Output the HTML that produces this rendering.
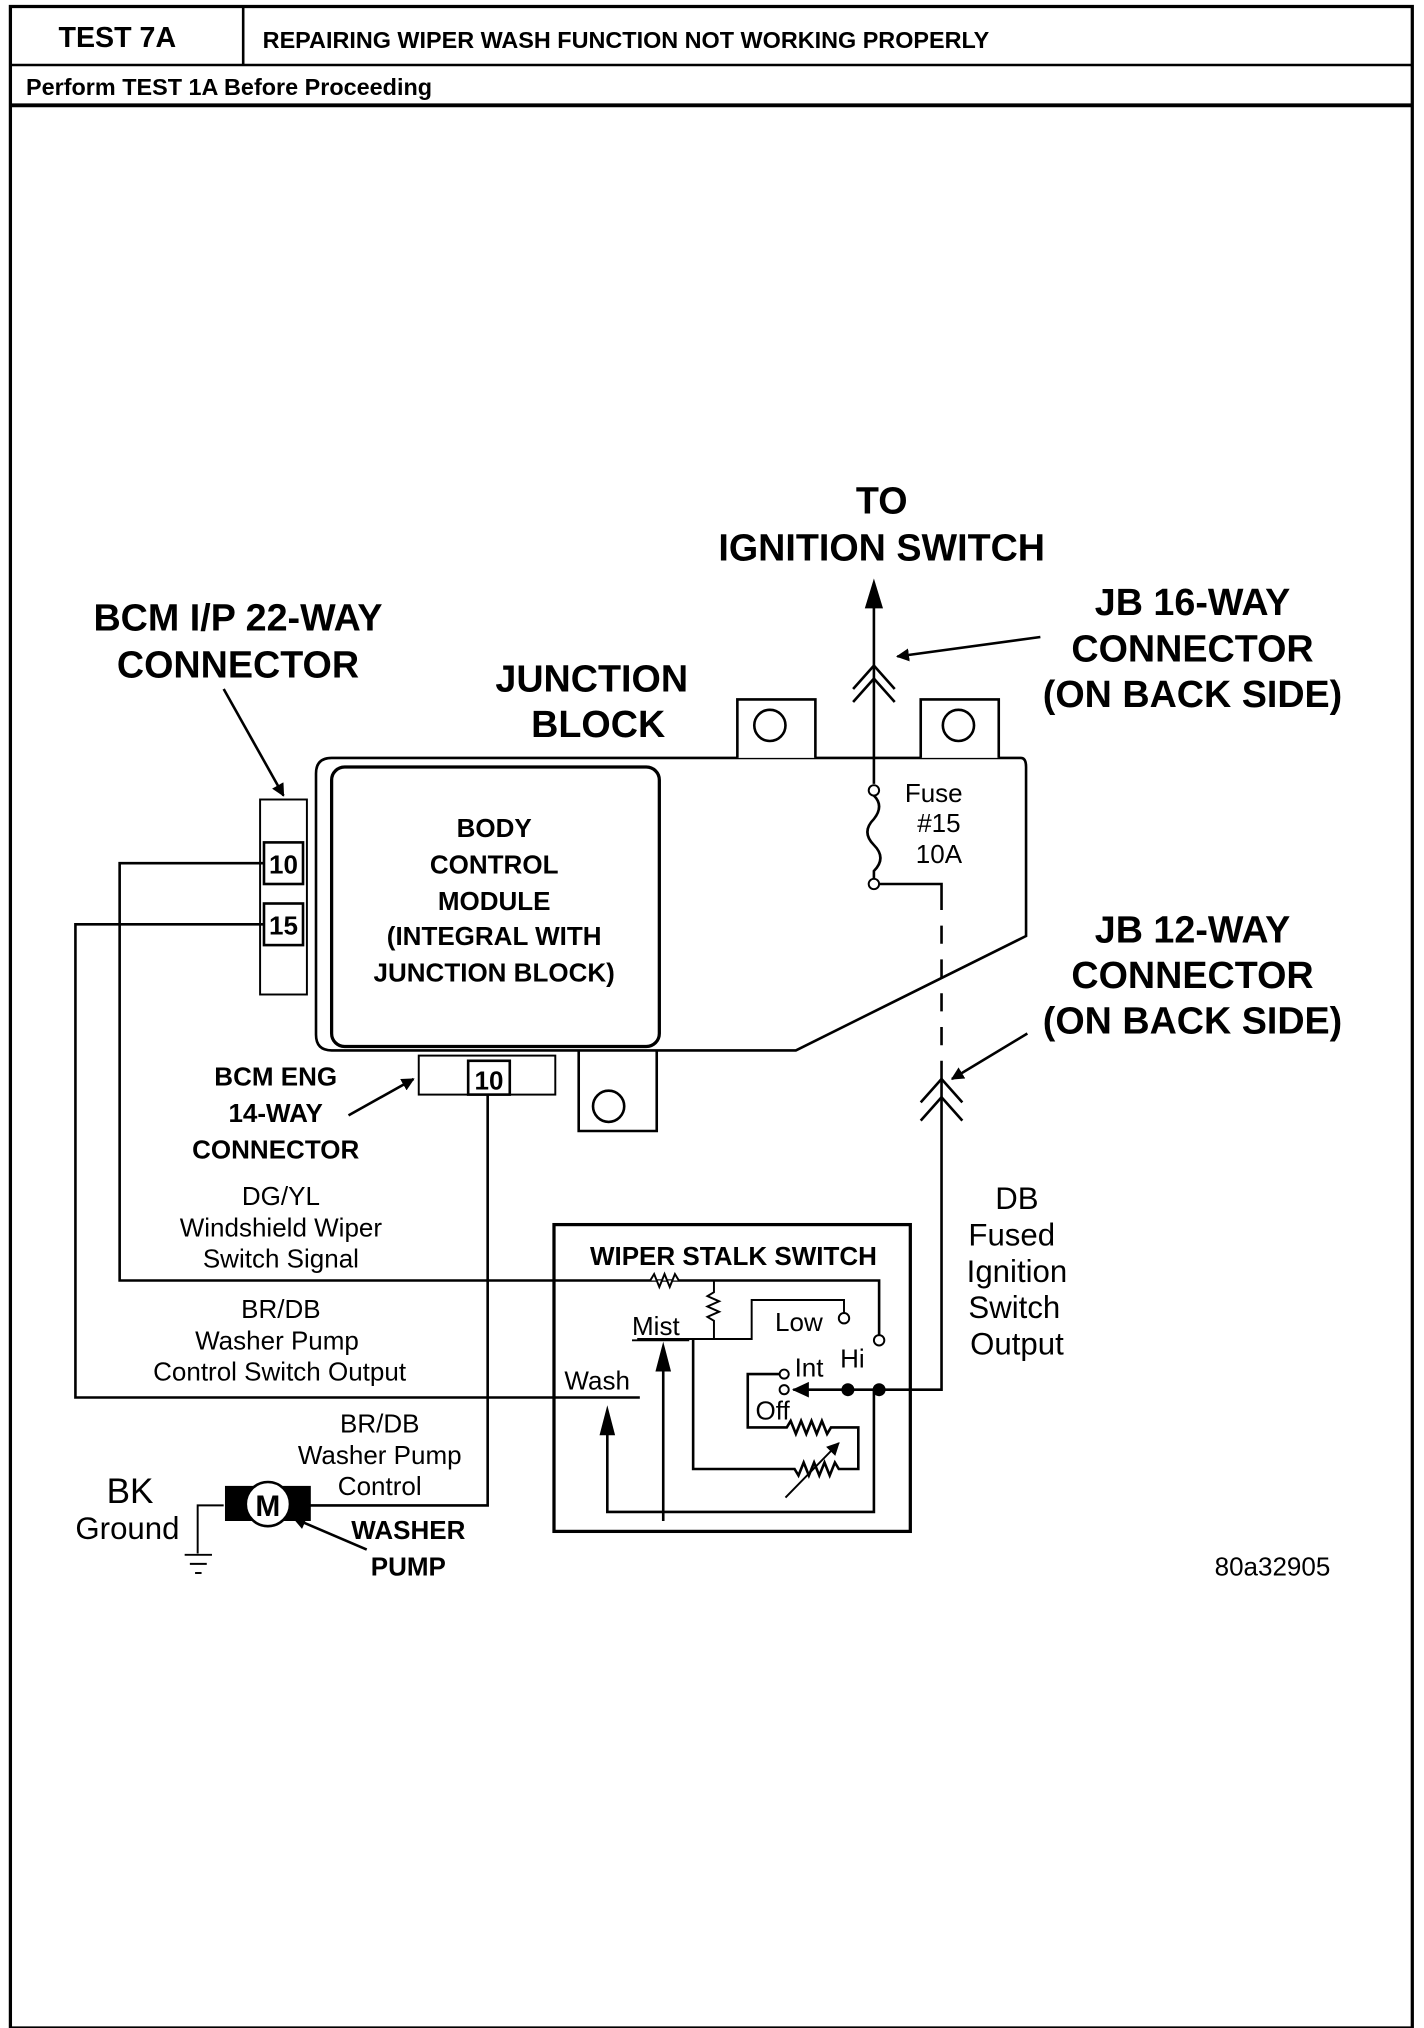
<!DOCTYPE html>
<html><head><meta charset="utf-8"><style>
html,body{margin:0;padding:0;background:#fff}
svg{display:block}
text{font-family:"Liberation Sans",sans-serif;fill:#000}
.b{font-weight:bold}
</style></head><body>
<svg width="1424" height="2028" viewBox="0 0 1095 1560" preserveAspectRatio="none" xmlns="http://www.w3.org/2000/svg">
<defs>
<marker id="ah" markerWidth="10" markerHeight="10" refX="9" refY="5" orient="auto" markerUnits="userSpaceOnUse"><path d="M0,0 L10,5 L0,10 z" fill="#000"/></marker>
</defs>
<g fill="none" stroke="#000">
<rect x="8" y="5" width="1078" height="1555" stroke-width="2.5"/>
<line x1="8" y1="50" x2="1086" y2="50" stroke-width="2"/>
<line x1="8" y1="81" x2="1086" y2="81" stroke-width="3"/>
<line x1="187" y1="5" x2="187" y2="50" stroke-width="2"/>

<path d="M255,583 L785,583 Q789,583 789,590 L789,720 L612,808 L255,808 Q243,808 243,796 L243,595 Q243,583 255,583 Z" stroke-width="2"/>
<path d="M567,583 L567,538 L627,538 L627,583" stroke-width="2" fill="#fff"/>
<circle cx="592" cy="558" r="12" stroke-width="2"/>
<path d="M708,583 L708,538 L768,538 L768,583" stroke-width="2" fill="#fff"/>
<circle cx="737" cy="558" r="12" stroke-width="2"/>
<path d="M445,808 L445,870 L505,870 L505,808" stroke-width="2"/>
<circle cx="468" cy="851" r="12" stroke-width="2"/>
<rect x="255" y="590" width="252" height="215" rx="10" stroke-width="2.5"/>
<rect x="200" y="615" width="36" height="150" stroke-width="1.5" fill="#fff"/>
<rect x="203" y="648" width="30" height="32" stroke-width="2"/>
<rect x="203" y="695" width="30" height="32" stroke-width="2"/>
<rect x="322" y="812" width="105" height="30" stroke-width="1.5"/>
<rect x="360" y="816" width="32" height="26" stroke-width="2"/>

<polyline points="203,664 92,664 92,985 676,985 676,1027" stroke-width="2"/>
<polyline points="203,711 58,711 58,1075 492,1075" stroke-width="2"/>
<polyline points="375,842 375,1158 238,1158" stroke-width="2"/>
<polyline points="172,1158 152,1158 152,1195" stroke-width="1.5"/>
<line x1="142" y1="1196" x2="163" y2="1196" stroke-width="1.5"/>
<line x1="146" y1="1203" x2="159" y2="1203" stroke-width="1.5"/>
<line x1="150" y1="1210" x2="155" y2="1210" stroke-width="1.5"/>
<line x1="672" y1="465" x2="672" y2="603" stroke-width="2"/>
<path d="M656,530 L672,512 L688,530 M656,540 L672,522 L688,540" stroke-width="2"/>
<circle cx="672" cy="608" r="4" stroke-width="1.5"/>
<path d="M672,612 Q680,620 672,630 Q662,640 672,650 Q682,660 672,670 L672,676" stroke-width="2"/>
<circle cx="672" cy="680" r="4" stroke-width="1.5"/>
<polyline points="676,680 724,680 724,700" stroke-width="2"/>
<line x1="724" y1="712" x2="724" y2="830" stroke-width="2" stroke-dasharray="14,12"/>
<polyline points="724,830 724,1069 610,1069" stroke-width="2"/>
<path d="M708,848 L724,830 L740,848 M708,862 L724,844 L740,862" stroke-width="2"/>

<line x1="172" y1="530" x2="218" y2="612" stroke-width="2" marker-end="url(#ah)"/>
<line x1="800" y1="490" x2="690" y2="505" stroke-width="2" marker-end="url(#ah)"/>
<line x1="790" y1="795" x2="732" y2="830" stroke-width="2" marker-end="url(#ah)"/>
<line x1="268" y1="858" x2="318" y2="830" stroke-width="2" marker-end="url(#ah)"/>
<line x1="282" y1="1192" x2="226" y2="1168" stroke-width="2" marker-end="url(#ah)"/>

<rect x="426" y="942" width="274" height="236" stroke-width="2.5"/>
<path d="M500,985 l3,-5 l4,10 l4,-10 l4,10 l4,-10 l3,5" stroke-width="1.5" fill="#fff"/>
<path d="M549,985 L549,994 l-5,3 l9,4 l-9,4 l9,4 l-9,4 l5,3 L549,1030" stroke-width="1.5"/>
<polyline points="490,1030 578,1030 578,1000 649,1000 649,1010" stroke-width="1.5"/>
<circle cx="649" cy="1014" r="4" stroke-width="1.5" fill="#fff"/>
<circle cx="676" cy="1031" r="4" stroke-width="1.5" fill="#fff"/>
<polyline points="510,1170 510,1037" stroke-width="2"/>
<polyline points="467,1095 467,1163 672,1163 672,1069" stroke-width="2"/>
<path d="M600,1057 L575,1057 L575,1098 L605,1098 l3,-5 l4,10 l4,-10 l4,10 l4,-10 l4,10 l4,-10 l4,10 l3,-5 L660,1098 L660,1130 L645,1130 l-3,-5 l-4,10 l-4,-10 l-4,10 l-4,-10 l-4,10 l-4,-10 l-4,10 l-3,-5 L533,1130 L533,1030" stroke-width="2"/>
<line x1="604" y1="1152" x2="645" y2="1110" stroke-width="1.5" marker-end="url(#ah)"/>
<circle cx="603" cy="1057" r="3.5" stroke-width="1.5" fill="#fff"/>
<circle cx="603" cy="1069" r="3.5" stroke-width="1.5" fill="#fff"/>
</g>
<g fill="#000">
<path d="M609,1069 L622,1063 L622,1075 Z"/>
<circle cx="652" cy="1069" r="5"/>
<circle cx="676" cy="1069" r="5"/>
<path d="M510,1032 L504,1055 L516,1055 Z"/>
<path d="M467,1081 L461,1104 L473,1104 Z"/>
<path d="M672,445 L665,468 L679,468 Z"/>
<rect x="173" y="1143" width="25" height="27"/>
<rect x="214" y="1143" width="25" height="27"/>
</g>
<circle cx="206" cy="1157" r="17" fill="#fff" stroke="#000" stroke-width="2"/>
<text x="206" y="1166" font-size="23" class="b" text-anchor="middle">M</text>

<text x="45" y="36" font-size="22" class="b">TEST 7A</text>
<text x="202" y="37" font-size="18" class="b">REPAIRING WIPER WASH FUNCTION NOT WORKING PROPERLY</text>
<text x="20" y="73" font-size="18" class="b">Perform TEST 1A Before Proceeding</text>

<g class="b" font-size="29" text-anchor="middle">
<text x="678" y="395">TO</text>
<text x="678" y="431">IGNITION SWITCH</text>
<text x="183" y="485">BCM I/P 22-WAY</text>
<text x="183" y="521">CONNECTOR</text>
<text x="455" y="532">JUNCTION</text>
<text x="460" y="567">BLOCK</text>
<text x="917" y="473">JB 16-WAY</text>
<text x="917" y="509">CONNECTOR</text>
<text x="917" y="544">(ON BACK SIDE)</text>
<text x="917" y="725">JB 12-WAY</text>
<text x="917" y="760">CONNECTOR</text>
<text x="917" y="795">(ON BACK SIDE)</text>
</g>
<g class="b" font-size="20" text-anchor="middle">
<text x="380" y="644">BODY</text>
<text x="380" y="672">CONTROL</text>
<text x="380" y="700">MODULE</text>
<text x="380" y="727">(INTEGRAL WITH</text>
<text x="380" y="755">JUNCTION BLOCK)</text>
<text x="212" y="835">BCM ENG</text>
<text x="212" y="863">14-WAY</text>
<text x="212" y="891">CONNECTOR</text>
<text x="314" y="1184">WASHER</text>
<text x="314" y="1212">PUMP</text>
<text x="564" y="973">WIPER STALK SWITCH</text>
</g>
<g class="b" font-size="20">
<text x="218" y="672" text-anchor="middle">10</text>
<text x="218" y="719" text-anchor="middle">15</text>
<text x="376" y="838" text-anchor="middle">10</text>
</g>
<g font-size="20" text-anchor="middle">
<text x="718" y="617">Fuse</text>
<text x="722" y="640">#15</text>
<text x="722" y="664">10A</text>
<text x="216" y="927">DG/YL</text>
<text x="216" y="951">Windshield Wiper</text>
<text x="216" y="975">Switch Signal</text>
<text x="216" y="1014">BR/DB</text>
<text x="213" y="1038">Washer Pump</text>
<text x="215" y="1062">Control Switch Output</text>
<text x="292" y="1102">BR/DB</text>
<text x="292" y="1126">Washer Pump</text>
<text x="292" y="1150">Control</text>
</g>
<g font-size="24" text-anchor="middle">
<text x="782" y="930">DB</text>
<text x="778" y="958">Fused</text>
<text x="782" y="986">Ignition</text>
<text x="780" y="1014">Switch</text>
<text x="782" y="1042">Output</text>
<text x="100" y="1156" font-size="27">BK</text>
<text x="98" y="1184">Ground</text>
</g>
<g font-size="20">
<text x="486" y="1027">Mist</text>
<text x="596" y="1024">Low</text>
<text x="646" y="1052">Hi</text>
<text x="611" y="1059">Int</text>
<text x="581" y="1092">Off</text>
<text x="434" y="1069">Wash</text>
<text x="934" y="1212">80a32905</text>
</g>
<line x1="486" y1="1031" x2="530" y2="1031" stroke="#000" stroke-width="1.5"/>
</svg>
</body></html>
